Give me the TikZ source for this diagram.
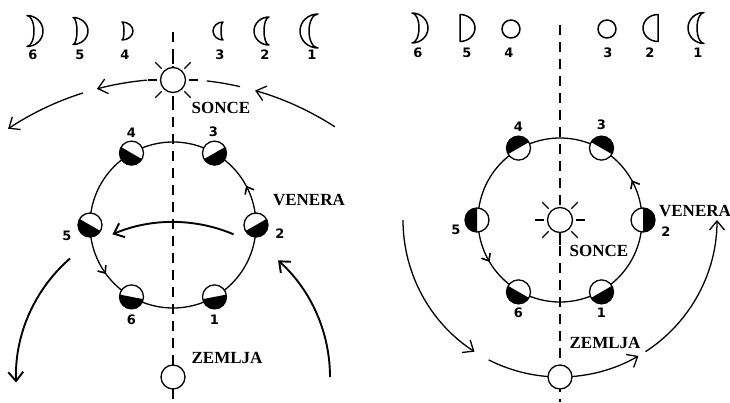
\documentclass[tikz,border=0pt]{standalone}
\usepackage{fontspec}
\setmainfont{Liberation Serif}
\setsansfont{DejaVu Sans}
\usetikzlibrary{arrows.meta,decorations.markings}
\tikzset{
    %Define standard arrow tip
    >={Straight Barb[length=9pt,width=15pt]},
    %Define style for the dashed Earth--Sun line
    sightline/.style={
           draw=black,
           line width=1.2pt,
           dash pattern=on 10pt off 7pt},
    orbit/.style={
           draw=black,
           line width=1.3pt},
    planet/.style={
           circle,
           draw=black, line width=1.3pt,
           fill=white,
           minimum size=24pt,
           inner sep=0pt},
    sunbody/.style={
           circle,
           draw=black, line width=1.3pt,
           fill=white,
           minimum size=25pt,
           inner sep=0pt},
    ray/.style={
           line width=1.2pt},
    moon/.style={
           draw=black, line width=1.5pt,
           fill=white,
           line join=round},
    bodylabel/.style={
           font=\fontsize{17}{17}\selectfont\bfseries},
    phaselabel/.style={
           font=\sffamily\bfseries\fontsize{13}{13}\selectfont},
    % Define arrow styles
    motion/.style={
           ->,
           line width=1.3pt},
    bigmotion/.style={
           ->,
           line width=1.9pt},
    turn/.style={
           postaction={decorate},
           decoration={markings,
              mark=at position #1 with {\arrow{Straight Barb[length=6pt,width=10pt]}}}}
}
\begin{document}
\begin{tikzpicture}[x=1pt,y=1pt]
\useasboundingbox (0,0) rectangle (730,402);

%% left: Venus seen around the Earth
\coordinate (oL) at (173,177);
\draw[sightline] (173,370) -- (173,0);
\draw[orbit, turn=0.078, turn=0.6] (oL) circle[radius=83];
\node[sunbody] (sonceL) at (173,322) {};
\foreach \a in {0,45,...,315}
    \draw[ray] ([shift={(\a:16)}]sonceL.center) -- ++(\a:9);
\node[planet] (zemljaL) at (173,25) {};

% arc through the Sun
\draw[motion] ([shift={(57.1:298)}]zemljaL.center) arc[start angle=57.1, end angle=74, radius=298];
\draw[orbit] ([shift={(77:298)}]zemljaL.center) arc[start angle=77, end angle=83.5, radius=298];
\draw[motion] ([shift={(95:298)}]zemljaL.center) arc[start angle=95, end angle=104.8, radius=298];
\draw[motion] ([shift={(107.6:298)}]zemljaL.center) arc[start angle=107.6, end angle=123.6, radius=298];

% thick arrows
\draw[bigmotion] ([shift={(67:155)}]zemljaL.center) arc[start angle=67, end angle=113, radius=155];
\draw[bigmotion] ([shift={(131:157)}]zemljaL.center) arc[start angle=131, end angle=182, radius=157];
\draw[bigmotion] ([shift={(0:157)}]zemljaL.center) arc[start angle=0, end angle=48, radius=157];

% Venus positions, dark half away from the Sun
\foreach \a/\d/\n/\lx/\ly in {0/120/2/24/-9, 60/120/3/-1/21, 120/60/4/0/20,
                             180/60/5/-23/-11, 240/79/6/0/-23, 300/101/1/0/-23}{
    \node[planet] (vL\n) at ([shift={(\a:83)}]oL) {};
    \fill ([shift={(\d+90:12)}]vL\n.center) arc[start angle=\d+90, end angle=\d+270, radius=12] -- cycle;
    \node[phaselabel] (nL\n) at ([shift={(\lx,\ly)}]vL\n.center) {\n};
}

\node[bodylabel] (tSonceL) at (221,294) {SONCE};
\node[bodylabel] (tVeneraL) at (309,202) {VENERA};
\node[bodylabel] (tZemljaL) at (227,44) {ZEMLJA};

% phases as seen from the Earth
\foreach \x/\a/\b/\r in {27/16/7/15.5, 73/15/4/13.5, 122/11/2/9}
    \draw[moon] (\x,{371+\r}) arc[start angle=90, end angle=-90, x radius=\a, y radius=\r]
                arc[start angle=-90, end angle=90, x radius=\b, y radius=\r] -- cycle;
\foreach \x/\a/\b/\r in {223/10/2/9, 269/15/5/14, 318/18/9/17}
    \draw[moon] (\x,{371+\r}) arc[start angle=90, end angle=270, x radius=\a, y radius=\r]
                arc[start angle=270, end angle=90, x radius=\b, y radius=\r] -- cycle;
\foreach \x/\n in {33/6, 80/5, 125/4, 220/3, 265/2, 312/1}
    \node[phaselabel] (mL\n) at (\x,347) {\n};

%% right: Venus around the Sun
\coordinate (oR) at (560,182);
\draw[sightline] (560,377) -- (560,0);
\draw[orbit, turn=0.08, turn=0.585] (oR) circle[radius=82];
\node[sunbody] (sonceR) at (oR) {};
\foreach \a in {0,45,...,315}
    \draw[ray] ([shift={(\a:16)}]sonceR.center) -- ++(\a:9);

% Earth's arc
\draw[motion] ([shift={(180:157)}]oR) arc[start angle=180, end angle=237, radius=157];
\draw[orbit] ([shift={(243:157)}]oR) arc[start angle=243, end angle=270, radius=157];
\draw[motion] ([shift={(270:157)}]oR) arc[start angle=270, end angle=300, radius=157];
\draw[motion] ([shift={(303:157)}]oR) arc[start angle=303, end angle=360, radius=157];
\node[planet] (zemljaR) at (560,25) {};

\foreach \a/\n/\lx/\ly in {0/2/23/-12, 60/3/0/23, 120/4/0/21,
                          180/5/-21/-10, 240/6/0/-21, 300/1/0/-21}{
    \node[planet] (vR\n) at ([shift={(\a:83)}]oR) {};
    \fill ([shift={(\a-90:12)}]vR\n.center) arc[start angle=\a-90, end angle=\a+90, radius=12] -- cycle;
    \node[phaselabel] (nR\n) at ([shift={(\lx,\ly)}]vR\n.center) {\n};
}

\node[bodylabel] (tSonceR) at (599,151) {SONCE};
\node[bodylabel] (tVeneraR) at (695,191) {VENERA};
\node[bodylabel] (tZemljaR) at (605,59) {ZEMLJA};

% phases as seen from the Earth
\draw[moon] (412,389) arc[start angle=90, end angle=-90, x radius=16, y radius=15]
            arc[start angle=-90, end angle=90, x radius=7, y radius=15] -- cycle;
\draw[moon] (460,387.5) arc[start angle=90, end angle=-90, x radius=15, y radius=13.5] -- cycle;
\draw[moon] (511,373) circle[radius=9];
\draw[moon] (607,373) circle[radius=9];
\draw[moon] (658,387.5) arc[start angle=90, end angle=270, x radius=15, y radius=13.5] -- cycle;
\draw[moon] (704,389.5) arc[start angle=90, end angle=270, x radius=16, y radius=15.5]
            arc[start angle=270, end angle=90, x radius=7, y radius=15.5] -- cycle;
\foreach \x/\n in {418/6, 467/5, 509/4, 608/3, 650/2, 698/1}
    \node[phaselabel] (mR\n) at (\x,349) {\n};
\end{tikzpicture}
\end{document}
